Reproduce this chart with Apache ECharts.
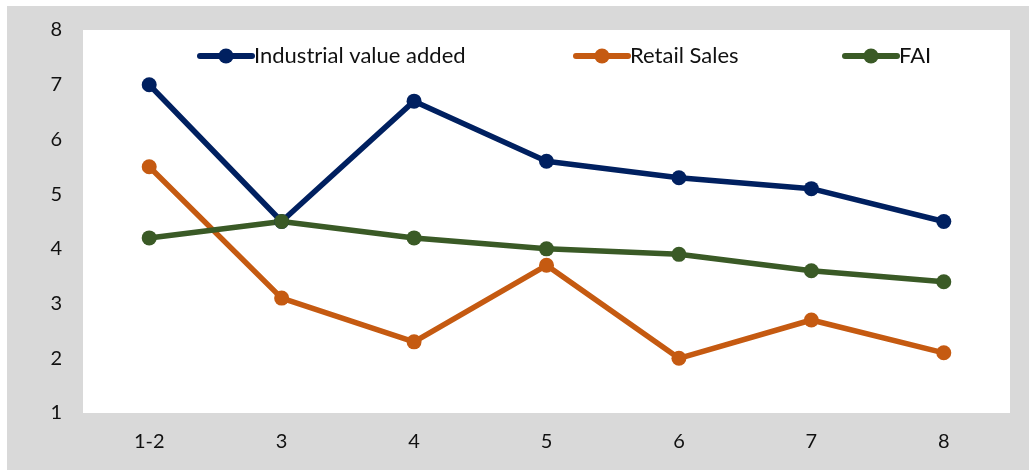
<!DOCTYPE html>
<html><head><meta charset="utf-8">
<script src="https://cdn.jsdelivr.net/npm/echarts@6/dist/echarts.min.js"></script>
<style>html,body{margin:0;padding:0;background:#fff}#c{width:1029px;height:470px}</style>
</head><body><div id="c"></div>
<script>
const categories = ['1-2','3','4','5','6','7','8'];
const industrial = [7.0, 4.5, 6.7, 5.6, 5.3, 5.1, 4.5];
const retail = [5.5, 3.1, 2.3, 3.7, 2.0, 2.7, 2.1];
const fai = [4.2, 4.5, 4.2, 4.0, 3.9, 3.6, 3.4];
const yTicks = [1,2,3,4,5,6,7,8];
const names = ['Industrial value added','Retail Sales','FAI'];

const font = 'Lato, "Open Sans", sans-serif';
const chart = echarts.init(document.getElementById('c'), null, {renderer:'canvas'});
function ser(name, data, color){
  return {name, type:'line', data, symbol:'circle', symbolSize:15,
    lineStyle:{width:5.5, color}, itemStyle:{color}, z:3};
}
function leg(name, left){
  return {top:40, left, itemWidth:52, itemHeight:19, itemGap:0,
    lineStyle:{width:6, cap:'round'},
    textStyle:{fontFamily:font, fontSize:22, color:'#111', padding:[0,0,0,-3]},
    data:[name]};
}
chart.setOption({
  animation:false,
  graphic:[{type:'rect', z:-10, shape:{x:7,y:6,width:1022,height:464}, style:{fill:'#d9d9d9'}}],
  grid:{left:83, right:19, top:30, bottom:57, show:true, backgroundColor:'#ffffff', borderWidth:0},
  legend:[leg(names[0],192), leg(names[1],568), leg(names[2],837)],
  xAxis:{type:'category', data:categories, boundaryGap:true,
    axisLine:{show:false}, axisTick:{show:false}, splitLine:{show:false},
    axisLabel:{fontFamily:font, fontSize:20, color:'#111', margin:19}},
  yAxis:{type:'value', min:1, max:8, interval:1,
    axisLine:{show:false}, axisTick:{show:false}, splitLine:{show:false},
    axisLabel:{fontFamily:font, fontSize:20, color:'#111', margin:21,
      formatter: v => yTicks.includes(v) ? String(v) : ''}},
  series:[ser(names[0], industrial, '#002060'),
          ser(names[1], retail, '#C55A11'),
          ser(names[2], fai, '#3A5A26')]
});
</script></body></html>
